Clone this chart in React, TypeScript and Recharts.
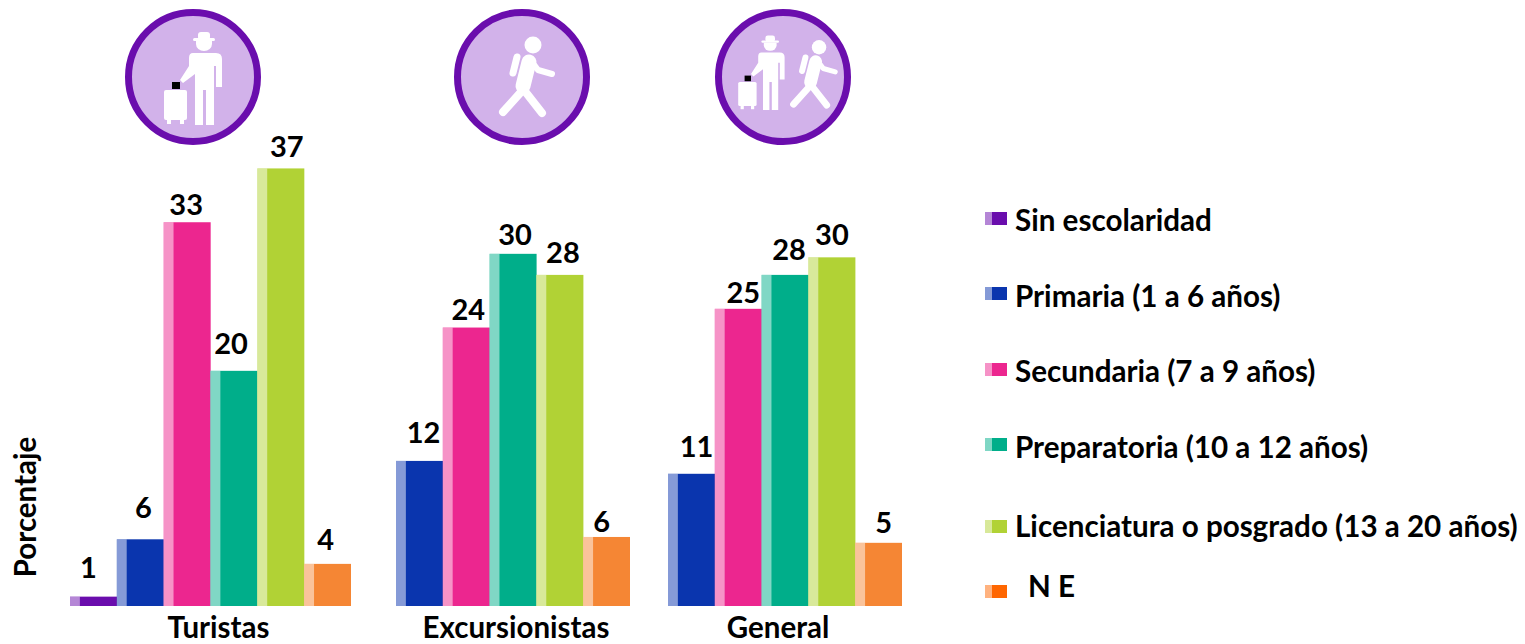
import { BarChart, Bar, Cell, XAxis, YAxis, LabelList } from "recharts";

const FONT = "Lato, 'Open Sans', sans-serif";
const INK = "#000000";
const PURPLE = "#6A0DAD";
const CHART_HEIGHT = 644;
const MARGIN = { top: 138, right: 0, bottom: 0, left: 0 };
const Y_DOMAIN: [number, number] = [0, 40];

const niveles = [
  "Sin escolaridad",
  "Primaria (1 a 6 años)",
  "Secundaria (7 a 9 años)",
  "Preparatoria (10 a 12 años)",
  "Licenciatura o posgrado (13 a 20 años)",
  "N E",
];
const colores = ["#6A0DAD", "#0A35AE", "#EC268F", "#00AE8A", "#B1D235", "#F58634"];
const coloresLeyenda = ["#6A0DAD", "#0A35AE", "#EC268F", "#00AE8A", "#B1D235", "#FF6600"];

// excursionistas y general no traen "Sin escolaridad"
const turistas = [0.8, 5.7, 32.8, 20.1, 37.4, 3.6];
const excursionistas = [12.4, 23.8, 30.1, 28.3, 5.9];
const general = [11.3, 25.4, 28.3, 29.8, 5.4];

// the labels were placed by hand in the original, so each one gets a nudge
const NUDGE_TURISTAS = [[-5, -11], [3, -13], [-1, 1], [-3, -9], [6, -3], [-2, -6]];
const NUDGE_EXCURSIONISTAS = [[4, -10], [2, 0], [2, -1], [3, -4], [-5, 3]];
const NUDGE_GENERAL = [[5, -9], [5, 2], [4, -7], [0, -4], [5, -2]];

function buildRows(values: number[], offset: number) {
  return values.map((value, i) => ({
    nivel: niveles[i + offset],
    value,
    color: colores[i + offset],
  }));
}

// bar with the paler strip down its left side
function StripedBar(props: any) {
  const { x, y, width, height, fill } = props;
  if (!height) return null;
  const strip = width * 0.21;
  return (
    <g>
      <rect x={x} y={y} width={width} height={height} fill={fill} />
      <rect x={x} y={y} width={strip} height={height} fill="#fff" opacity={0.5} />
    </g>
  );
}

function Group({ rows, name, width, left, labelDx, nudges, withAxisTitle }: any) {
  const renderValue = (p: any) => {
    const [dx, dy] = nudges[p.index];
    return (
      <text
        x={p.x + p.width / 2 + dx}
        y={p.y - 8 + dy}
        textAnchor="middle"
        fontFamily={FONT}
        fontSize={29}
        fontWeight={700}
        fill={INK}
      >
        {Math.round(Number(p.value))}
      </text>
    );
  };

  return (
    <div style={{ position: "absolute", top: 0, left }}>
      <BarChart width={width} height={CHART_HEIGHT} data={rows} margin={MARGIN} barCategoryGap={0}>
        <XAxis
          dataKey="nivel"
          tick={false}
          tickLine={false}
          axisLine={false}
          height={38}
          label={{
            value: name,
            position: "insideBottom",
            dx: labelDx,
            dy: -1,
            style: { fontFamily: FONT, fontSize: 29.5, fontWeight: 700, fill: INK },
          }}
        />
        <YAxis
          domain={Y_DOMAIN}
          hide={!withAxisTitle}
          width={70}
          tick={false}
          tickLine={false}
          axisLine={false}
          label={
            withAxisTitle
              ? {
                  value: "Porcentaje",
                  angle: -90,
                  position: "insideLeft",
                  dx: 21,
                  dy: 135,
                  style: { fontFamily: FONT, fontSize: 29.5, fontWeight: 700, fill: INK, textAnchor: "middle" },
                }
              : undefined
          }
        />
        <Bar dataKey="value" isAnimationActive={false} shape={<StripedBar />}>
          {rows.map((r: any) => (
            <Cell key={r.nivel} fill={r.color} />
          ))}
          <LabelList dataKey="value" content={renderValue} />
        </Bar>
      </BarChart>
    </div>
  );
}

function Traveller() {
  return (
    <g fill="#fff">
      <rect x={198} y={32} width={12} height={8} rx={3} />
      <rect x={193} y={38} width={22} height={3} rx={1.5} />
      <path d="M196 41 H212 V44 A8 7 0 0 1 196 44 Z" />
      <path d="M193 53 H216 Q222 53 222 59 V87 H216 V66 H214 V125 H206 V90 H203 V125 H195 V74 L183 83 L180 80 L189 66 V58 Q189 53 193 53 Z" />
      <rect x={164} y={90} width={23} height={30} rx={2} />
      <rect x={167} y={119} width={4} height={5} />
      <rect x={180} y={119} width={4} height={5} />
      <rect x={172} y={82} width={8} height={7} fill="#000" />
    </g>
  );
}

function Walker() {
  return (
    <g fill="none" stroke="#fff" strokeLinecap="round" strokeLinejoin="round">
      <circle cx={533} cy={45} r={8.5} fill="#fff" stroke="none" />
      <path d="M529 62 L523 86" strokeWidth={15} />
      <path d="M521 92 L503 112" strokeWidth={8} />
      <path d="M524 90 L542 113" strokeWidth={8} />
      <path d="M532 62 L538 70 L552 74" strokeWidth={6} fill="none" />
      <path d="M517 57 L513 73" strokeWidth={7} />
    </g>
  );
}

function Badges() {
  return (
    <svg width={1525} height={160} style={{ position: "absolute", top: 0, left: 0 }}>
      {[193, 522, 783].map((cx) => (
        <circle key={cx} cx={cx} cy={77} r={64.5} fill="#D2B2EA" stroke={PURPLE} strokeWidth={7} />
      ))}
      <Traveller />
      <Walker />
      {/* same two figures, smaller, for General */}
      <g transform="translate(607 10) scale(0.8)">
        <Traveller />
      </g>
      <g transform="translate(366 9) scale(0.85)">
        <Walker />
      </g>
    </svg>
  );
}

const legendText = [220, 296, 371, 447, 526, 586];
const legendSwatch = [212, 287, 363, 438, 520, 585];

function LegendBlock() {
  return (
    <>
      {niveles.map((nivel, i) => (
        <div key={nivel}>
          <div
            style={{
              position: "absolute",
              left: 985,
              top: legendSwatch[i],
              width: 22,
              height: 13,
              background: `linear-gradient(to right, ${coloresLeyenda[i]}80 0 30%, ${coloresLeyenda[i]} 30%)`,
            }}
          />
          <div
            style={{
              position: "absolute",
              left: i === 5 ? 1028 : 1015,
              top: legendText[i] - 20,
              lineHeight: "40px",
              height: 40,
              whiteSpace: "nowrap",
              fontFamily: FONT,
              fontSize: 29.6,
              fontWeight: 700,
              color: INK,
            }}
          >
            {nivel}
          </div>
        </div>
      ))}
    </>
  );
}

export default function App() {
  return (
    <div style={{ position: "absolute", top: 0, left: 0, width: 1525, height: 644, overflow: "hidden", background: "#fff" }}>
      <Badges />
      <Group rows={buildRows(turistas, 0)} name="Turistas" width={351} left={0} labelDx={8} nudges={NUDGE_TURISTAS} withAxisTitle />
      <Group rows={buildRows(excursionistas, 1)} name="Excursionistas" width={234} left={396} labelDx={3} nudges={NUDGE_EXCURSIONISTAS} />
      <Group rows={buildRows(general, 1)} name="General" width={234} left={668} labelDx={-7} nudges={NUDGE_GENERAL} />
      <LegendBlock />
    </div>
  );
}
